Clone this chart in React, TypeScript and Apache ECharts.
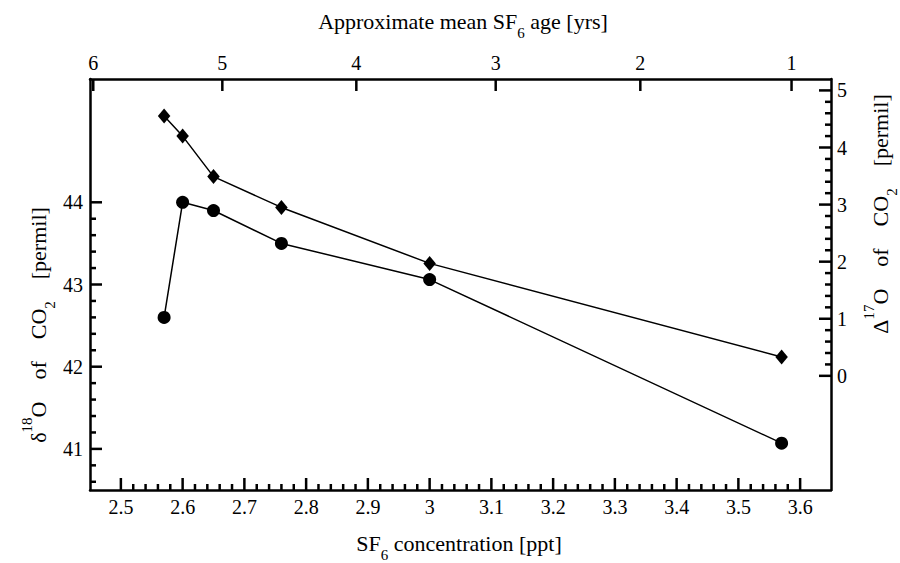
import React, { useEffect, useRef } from 'react';
import * as echarts from 'echarts';

// ---- data ----
const concentration = [2.57, 2.6, 2.65, 2.76, 3.0, 3.57];
const delta18O = [42.6, 44.0, 43.9, 43.5, 43.06, 41.07];
const cap17O = [4.55, 4.2, 3.49, 2.95, 1.97, 0.33];

// ---- tick values / labels ----
const xMajorTicks = [2.5, 2.6, 2.7, 2.8, 2.9, 3.0, 3.1, 3.2, 3.3, 3.4, 3.5, 3.6];
const xTickLabels = ['2.5', '2.6', '2.7', '2.8', '2.9', '3', '3.1', '3.2', '3.3', '3.4', '3.5', '3.6'];
const ageLabels = ['6', '5', '4', '3', '2', '1'];
const ageTickConcentration = [2.4553, 2.6643, 2.8813, 3.107, 3.3412, 3.5861];
const leftMajorTicks = [41, 42, 43, 44];
const leftExtraMinor = [40.6, 40.8];
const rightMajorTicks = [0, 1, 2, 3, 4, 5];

const X_MIN = 2.45;
const X_MAX = 3.65;
const L_MIN = 40.5;
const L_MAX = 45.5;
const R_MIN = -2;
const R_MAX = 5.2;

const r3 = (v: number) => Math.round(v * 1000) / 1000;
function minorBetween(majors: number[], n: number): number[] {
  const out: number[] = [];
  for (let i = 0; i < majors.length - 1; i++) {
    const a = majors[i];
    const b = majors[i + 1];
    for (let k = 1; k < n; k++) out.push(r3(a + ((b - a) * k) / n));
  }
  return out;
}

const FONT = "'Liberation Serif', 'Times New Roman', Times, serif";
const BLACK = '#000';

const richStyles = {
  m: { fontSize: 22, fontFamily: FONT, color: BLACK, lineHeight: 48 },
  sub: { fontSize: 15, fontFamily: FONT, color: BLACK, height: 24, verticalAlign: 'bottom' },
  sup: { fontSize: 15, fontFamily: FONT, color: BLACK, height: 26, verticalAlign: 'top' },
};

export default function App() {
  const ref = useRef<HTMLDivElement>(null);

  useEffect(() => {
    if (!ref.current) return;
    const chart = echarts.init(ref.current, undefined, { renderer: 'svg' });

    const axisLine = { show: true, onZero: false, lineStyle: { color: BLACK, width: 2.5 } };
    const labelBase = { fontSize: 20, fontFamily: FONT, color: BLACK };

    const nearestIdx = (arr: number[], v: number) => {
      let best = 0;
      for (let i = 1; i < arr.length; i++) if (Math.abs(arr[i] - v) < Math.abs(arr[best] - v)) best = i;
      return best;
    };

    const option: any = {
      animation: false,
      backgroundColor: '#fff',
      textStyle: { fontFamily: FONT },
      grid: { left: 90, right: 69, top: 79, bottom: 73, outerBoundsMode: 'none' },
      xAxis: [
        {
          type: 'value',
          position: 'bottom',
          min: X_MIN,
          max: X_MAX,
          axisLine,
          axisTick: { show: false },
          axisLabel: {
            ...labelBase,
            margin: 7,
            customValues: xMajorTicks,
            formatter: (v: number) => xTickLabels[nearestIdx(xMajorTicks, v)],
          },
          splitLine: { show: false },
        },
        {
          type: 'value',
          position: 'top',
          min: X_MIN,
          max: X_MAX,
          axisLine,
          axisTick: { show: false },
          axisLabel: {
            ...labelBase,
            margin: 6,
            customValues: ageTickConcentration,
            formatter: (v: number) => ageLabels[nearestIdx(ageTickConcentration, v)],
          },
          splitLine: { show: false },
        },
      ],
      yAxis: [
        {
          type: 'value',
          position: 'left',
          min: L_MIN,
          max: L_MAX,
          axisLine,
          axisTick: { show: false },
          axisLabel: { ...labelBase, margin: 7, customValues: leftMajorTicks },
          splitLine: { show: false },
        },
        {
          type: 'value',
          position: 'right',
          min: R_MIN,
          max: R_MAX,
          axisLine,
          axisTick: { show: false },
          axisLabel: { ...labelBase, margin: 6, customValues: rightMajorTicks },
          splitLine: { show: false },
        },
      ],
      series: [
        {
          name: 'delta18O',
          type: 'line',
          xAxisIndex: 0,
          yAxisIndex: 0,
          data: concentration.map((c, i) => [c, delta18O[i]]),
          symbol: 'circle',
          symbolSize: 13,
          lineStyle: { color: BLACK, width: 1.5 },
          itemStyle: { color: BLACK },
          z: 3,
        },
        {
          name: 'cap17O',
          type: 'line',
          xAxisIndex: 0,
          yAxisIndex: 1,
          data: concentration.map((c, i) => [c, cap17O[i]]),
          symbol: 'diamond',
          symbolSize: [12.5, 15],
          lineStyle: { color: BLACK, width: 1.5 },
          itemStyle: { color: BLACK },
          z: 3,
        },
      ],
      graphic: [
        {
          type: 'text',
          x: 459,
          y: 543,
          style: {
            text: '{m|SF}{sub|6}{m| concentration [ppt]}',
            rich: richStyles,
            align: 'center',
            verticalAlign: 'middle',
          },
        },
        {
          type: 'text',
          x: 463,
          y: 21,
          style: {
            text: '{m|Approximate mean SF}{sub|6}{m| age [yrs]}',
            rich: richStyles,
            align: 'center',
            verticalAlign: 'middle',
          },
        },
        {
          type: 'text',
          x: 38,
          y: 325,
          rotation: Math.PI / 2,
          style: {
            text: '{m|δ}{sup|18}{m|O    of    CO}{sub|2}{m|    [permil]}',
            rich: richStyles,
            align: 'center',
            verticalAlign: 'middle',
          },
        },
        {
          type: 'text',
          x: 880,
          y: 214,
          rotation: Math.PI / 2,
          style: {
            text: '{m|Δ}{sup|17}{m|O    of    CO}{sub|2}{m|    [permil]}',
            rich: richStyles,
            align: 'center',
            verticalAlign: 'middle',
          },
        },
      ],
    };

    chart.setOption(option);

    // ticks: positions converted through the axes' own scales
    const MAJ = 12;
    const MIN = 6;
    const bottomMinor = minorBetween(xMajorTicks, 5);
    const leftMinor = [...leftExtraMinor, ...minorBetween(leftMajorTicks, 5)];
    const rightMinor = minorBetween(rightMajorTicks, 5);

    const lines: any[] = [];
    const addLine = (x1: number, y1: number, x2: number, y2: number) =>
      lines.push({
        type: 'line',
        silent: true,
        z: 100,
        shape: { x1, y1, x2, y2 },
        style: { stroke: BLACK, lineWidth: 2.5 },
      });

    const px = (xi: number, yi: number, v: [number, number]) =>
      chart.convertToPixel({ xAxisIndex: xi, yAxisIndex: yi } as any, v) as number[];

    xMajorTicks.forEach((v) => {
      const p = px(0, 0, [v, L_MIN]);
      addLine(p[0], p[1], p[0], p[1] - MAJ);
    });
    bottomMinor.forEach((v) => {
      const p = px(0, 0, [v, L_MIN]);
      addLine(p[0], p[1], p[0], p[1] - MIN);
    });
    ageTickConcentration.forEach((v) => {
      const p = px(1, 0, [v, L_MAX]);
      addLine(p[0], p[1], p[0], p[1] + MAJ);
    });
    leftMajorTicks.forEach((v) => {
      const p = px(0, 0, [X_MIN, v]);
      addLine(p[0], p[1], p[0] + MAJ, p[1]);
    });
    leftMinor.forEach((v) => {
      const p = px(0, 0, [X_MIN, v]);
      addLine(p[0], p[1], p[0] + MIN, p[1]);
    });
    rightMajorTicks.forEach((v) => {
      const p = px(0, 1, [X_MAX, v]);
      addLine(p[0], p[1], p[0] - MAJ, p[1]);
    });
    rightMinor.forEach((v) => {
      const p = px(0, 1, [X_MAX, v]);
      addLine(p[0], p[1], p[0] - MIN, p[1]);
    });

    chart.setOption({ graphic: [...(option.graphic as any[]), ...lines] } as any);

    return () => chart.dispose();
  }, []);

  return (
    <div
      ref={ref}
      style={{ position: 'absolute', left: 0, top: 0, width: 900, height: 563 }}
    />
  );
}
